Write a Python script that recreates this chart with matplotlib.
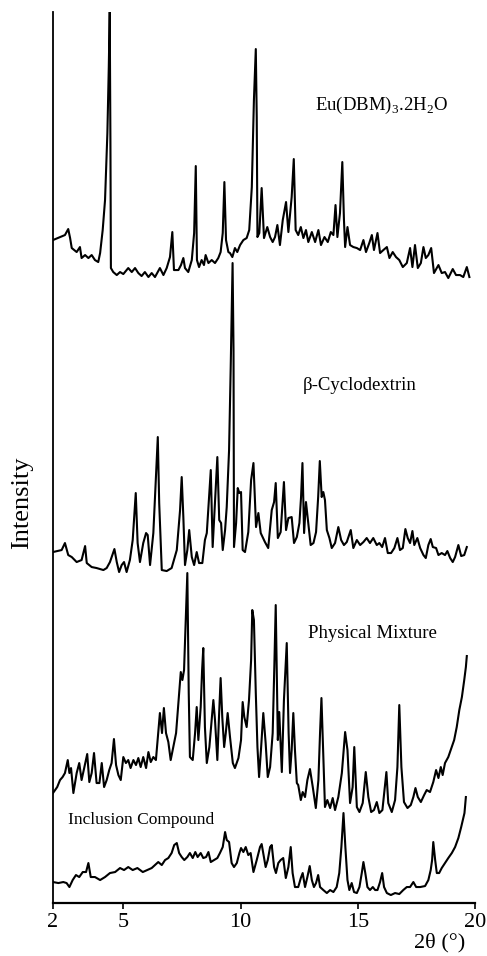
import numpy as np
import matplotlib
matplotlib.use('Agg')
import matplotlib.pyplot as plt

plt.rcParams['font.family'] = ['Liberation Serif', 'DejaVu Serif']
plt.rcParams['mathtext.fontset'] = 'custom'
plt.rcParams['mathtext.rm'] = 'Liberation Serif'

# digitised XRD patterns, 2theta (deg) vs intensity (a.u., stacked)
eu_x = [2.00, 2.51, 2.65, 2.73, 2.80, 3.01, 3.15, 3.22, 3.37, 3.51, 3.65, 3.79, 3.93, 4.01, 4.12, 4.22,
        4.32, 4.38, 4.42, 4.45, 4.47, 4.57, 4.72, 4.86, 5.00, 5.21, 5.36, 5.50, 5.64, 5.78, 5.92, 6.07,
        6.21, 6.35, 6.56, 6.71, 6.85, 6.99, 7.09, 7.16, 7.35, 7.46, 7.56, 7.63, 7.77, 7.92, 8.02, 8.09,
        8.14, 8.23, 8.34, 8.44, 8.51, 8.63, 8.77, 8.91, 9.05, 9.15, 9.24, 9.31, 9.38, 9.48, 9.55, 9.65,
        9.76, 9.86, 9.98, 10.12, 10.26, 10.37, 10.48, 10.57, 10.65, 10.69, 10.72, 10.80, 10.90, 11.00,
        11.14, 11.26, 11.37, 11.47, 11.57, 11.68, 11.80, 11.94, 12.04, 12.18, 12.27, 12.35, 12.46, 12.57,
        12.68, 12.79, 12.89, 13.04, 13.18, 13.32, 13.43, 13.58, 13.72, 13.85, 13.96, 14.05, 14.13, 14.24,
        14.34, 14.41, 14.46, 14.56, 14.67, 14.81, 14.96, 15.10, 15.24, 15.35, 15.49, 15.60, 15.69, 15.84,
        15.95, 16.09, 16.24, 16.35, 16.49, 16.63, 16.77, 16.92, 17.09, 17.23, 17.33, 17.44, 17.56, 17.69,
        17.80, 17.90, 18.01, 18.13, 18.25, 18.44, 18.58, 18.72, 18.86, 19.05, 19.19, 19.36, 19.50, 19.65,
        19.76]
eu_y = [663, 668, 674, 665, 655, 651, 656, 645, 648, 645, 648, 643, 641, 650, 673, 703,
        770, 836, 891, 760, 635, 631, 628, 631, 629, 635, 631, 635, 630, 627, 631, 626,
        630, 626, 635, 628, 635, 646, 671, 633, 633, 638, 645, 635, 631, 643, 670, 737,
        643, 636, 643, 638, 648, 640, 643, 640, 645, 651, 670, 721, 663, 651, 650, 646,
        655, 651, 658, 663, 665, 673, 716, 803, 854, 786, 666, 670, 715, 665,
        676, 666, 661, 666, 678, 658, 683, 701, 671, 706, 744, 673, 668, 676,
        665, 673, 661, 671, 661, 673, 658, 666, 661, 671, 668, 698, 666, 690,
        741, 683, 656, 676, 658, 656, 655, 653, 663, 651, 660, 668, 653, 670,
        650, 653, 656, 645, 651, 646, 643, 636, 640, 655, 636, 658, 635, 640,
        656, 645, 648, 655, 630, 638, 630, 631, 625, 634, 628, 628, 626, 636,
        626]

cd_x = [2.00, 2.37, 2.51, 2.65, 2.80, 3.01, 3.22, 3.37, 3.44, 3.65, 3.86, 4.15, 4.29, 4.43, 4.62, 4.72,
        4.82, 4.93, 5.03, 5.14, 5.28, 5.40, 5.53, 5.61, 5.71, 5.85, 5.97, 6.04, 6.14, 6.28, 6.39, 6.47,
        6.53, 6.64, 6.85, 7.06, 7.28, 7.42, 7.49, 7.56, 7.63, 7.73, 7.81, 7.92, 8.02, 8.13, 8.23, 8.37,
        8.48, 8.56, 8.64, 8.73, 8.81, 8.91, 9.01, 9.09, 9.17, 9.24, 9.34, 9.41, 9.51, 9.58, 9.66, 9.70,
        9.72, 9.81, 9.88, 9.95, 10.02, 10.09, 10.19, 10.33, 10.45, 10.55, 10.66, 10.76, 10.86, 11.04,
        11.18, 11.33, 11.43, 11.50, 11.59, 11.71, 11.85, 11.94, 12.04, 12.18, 12.28, 12.40, 12.51, 12.58,
        12.64, 12.71, 12.79, 12.89, 12.99, 13.11, 13.22, 13.31, 13.38, 13.46, 13.53, 13.60, 13.68, 13.79,
        13.89, 14.03, 14.17, 14.29, 14.41, 14.53, 14.70, 14.81, 14.96, 15.10, 15.24, 15.38, 15.52, 15.66,
        15.81, 15.92, 16.04, 16.16, 16.28, 16.42, 16.56, 16.69, 16.80, 16.92, 17.03, 17.13, 17.23, 17.33,
        17.41, 17.54, 17.66, 17.80, 17.90, 18.01, 18.11, 18.20, 18.34, 18.44, 18.58, 18.72, 18.82, 18.94,
        19.05, 19.15, 19.29, 19.41, 19.54, 19.65]
cd_y = [351, 353, 360, 348, 346, 341, 343, 357, 340, 336, 335, 333, 335, 341, 354, 341,
        331, 338, 341, 331, 343, 363, 410, 360, 341, 360, 370, 368, 338, 370, 426, 466,
        400, 333, 332, 335, 353, 393, 426, 386, 338, 353, 373, 346, 338, 351, 340, 340,
        363, 370, 400, 433, 356, 400, 446, 383, 380, 353, 373, 396, 453, 536, 640, 553,
        356, 380, 415, 410, 411, 353, 351, 371, 423, 440, 376, 390, 370, 361,
        355, 393, 401, 420, 365, 371, 421, 373, 385, 386, 360, 366, 380, 406,
        440, 370, 401, 380, 358, 360, 371, 406, 442, 406, 411, 403, 373, 365,
        355, 360, 376, 363, 358, 361, 373, 355, 363, 358, 361, 365, 360, 365,
        358, 360, 356, 365, 350, 350, 355, 365, 353, 355, 374, 365, 360, 372,
        358, 365, 355, 348, 345, 358, 364, 356, 355, 348, 350, 348, 352, 345,
        341, 346, 358, 347, 348, 356]

pm_x = [2.00, 2.18, 2.30, 2.41, 2.51, 2.63, 2.70, 2.77, 2.87, 3.01, 3.12, 3.22, 3.34, 3.46, 3.55, 3.65,
        3.75, 3.86, 3.98, 4.08, 4.18, 4.29, 4.40, 4.50, 4.60, 4.69, 4.79, 4.89, 5.00, 5.11, 5.21, 5.31,
        5.43, 5.54, 5.64, 5.74, 5.85, 5.97, 6.07, 6.17, 6.28, 6.39, 6.48, 6.56, 6.65, 6.73, 6.82, 6.92,
        7.02, 7.13, 7.25, 7.35, 7.45, 7.52, 7.59, 7.66, 7.73, 7.79, 7.84, 7.96, 8.06, 8.13, 8.20, 8.30,
        8.36, 8.41, 8.48, 8.56, 8.67, 8.77, 8.84, 8.91, 9.01, 9.08, 9.15, 9.22, 9.30, 9.37, 9.45, 9.55,
        9.67, 9.76, 9.91, 10.02, 10.09, 10.16, 10.26, 10.36, 10.45, 10.50, 10.57, 10.65, 10.72, 10.79,
        10.87, 10.97, 11.07, 11.16, 11.26, 11.37, 11.44, 11.50, 11.59, 11.65, 11.76, 11.85, 11.97, 12.05,
        12.11, 12.18, 12.25, 12.32, 12.40, 12.46, 12.57, 12.65, 12.75, 12.85, 12.96, 13.08, 13.21, 13.32,
        13.39, 13.45, 13.52, 13.60, 13.70, 13.82, 13.93, 14.03, 14.17, 14.32, 14.46, 14.56, 14.67, 14.78,
        14.85, 14.96, 15.07, 15.21, 15.34, 15.45, 15.57, 15.69, 15.81, 15.92, 16.05, 16.13, 16.22, 16.30,
        16.45, 16.59, 16.69, 16.77, 16.86, 16.97, 17.12, 17.26, 17.37, 17.46, 17.56, 17.69, 17.83, 17.94,
        18.08, 18.22, 18.34, 18.44, 18.54, 18.62, 18.72, 18.86, 19.01, 19.11, 19.22, 19.33, 19.44, 19.54,
        19.61, 19.65]
pm_y = [110, 116, 123, 126, 130, 143, 130, 135, 110, 130, 140, 123, 136, 149, 121, 130,
        150, 120, 120, 140, 116, 123, 133, 140, 164, 138, 128, 123, 146, 140, 143, 135,
        143, 138, 145, 136, 146, 135, 151, 141, 146, 143, 168, 190, 170, 195, 170, 161,
        143, 156, 170, 200, 231, 223, 233, 280, 330, 210, 146, 143, 170, 196, 163, 196,
        233, 255, 176, 140, 156, 183, 203, 183, 143, 186, 225, 186, 156, 170, 190, 166,
        140, 135, 145, 163, 201, 186, 176, 203, 243, 293, 283, 210, 156, 126,
        153, 190, 160, 126, 136, 170, 236, 298, 163, 191, 131, 203, 260, 170,
        130, 153, 190, 153, 120, 118, 103, 111, 106, 123, 134, 116, 95, 123,
        170, 205, 153, 96, 103, 95, 105, 93, 106, 130, 171, 153, 100, 116,
        156, 96, 91, 100, 131, 106, 91, 93, 101, 90, 93, 111, 131, 100,
        91, 103, 136, 198, 136, 101, 95, 98, 106, 115, 106, 101, 108, 113,
        111, 121, 133, 125, 136, 128, 140, 146, 156, 163, 176, 193, 206, 223,
        236, 247]

ic_x = [2.00, 2.23, 2.44, 2.58, 2.70, 2.84, 2.98, 3.12, 3.27, 3.41, 3.51, 3.61, 3.79, 4.01, 4.22, 4.43,
        4.65, 4.86, 5.03, 5.21, 5.40, 5.60, 5.83, 6.02, 6.21, 6.35, 6.49, 6.64, 6.78, 6.92, 7.06, 7.17,
        7.28, 7.38, 7.49, 7.60, 7.73, 7.84, 7.96, 8.07, 8.17, 8.30, 8.41, 8.53, 8.63, 8.73, 8.87, 9.01,
        9.12, 9.24, 9.34, 9.41, 9.51, 9.62, 9.72, 9.84, 9.95, 10.02, 10.12, 10.22, 10.33, 10.43, 10.55,
        10.69, 10.83, 10.90, 11.07, 11.16, 11.26, 11.33, 11.43, 11.51, 11.61, 11.71, 11.82, 11.93, 12.04,
        12.14, 12.22, 12.32, 12.46, 12.57, 12.65, 12.75, 12.85, 12.95, 13.04, 13.13, 13.22, 13.31, 13.39,
        13.53, 13.68, 13.82, 13.96, 14.10, 14.21, 14.30, 14.39, 14.47, 14.56, 14.64, 14.74, 14.84, 14.96,
        15.07, 15.17, 15.24, 15.32, 15.41, 15.52, 15.64, 15.74, 15.84, 15.95, 16.04, 16.12, 16.24, 16.41,
        16.59, 16.77, 16.94, 17.09, 17.23, 17.37, 17.49, 17.66, 17.87, 18.01, 18.11, 18.17, 18.22, 18.30,
        18.37, 18.47, 18.58, 18.72, 18.86, 19.01, 19.15, 19.29, 19.41, 19.48, 19.55, 19.61]
ic_y = [21, 20, 21, 20, 16, 23, 28, 26, 31, 31, 40, 26, 26, 23, 26, 30,
        31, 35, 33, 36, 33, 35, 31, 33, 35, 38, 41, 38, 43, 45, 50, 58,
        60, 50, 46, 43, 46, 50, 45, 51, 46, 50, 45, 46, 51, 41, 43, 45,
        50, 56, 71, 63, 61, 40, 36, 40, 50, 55, 51, 56, 48, 50, 31,
        43, 56, 59, 36, 43, 56, 58, 36, 30, 40, 43, 45, 25, 36,
        56, 30, 16, 16, 25, 30, 16, 26, 37, 23, 16, 20, 28, 16,
        13, 10, 13, 11, 16, 30, 56, 90, 56, 23, 13, 20, 11, 10,
        16, 30, 41, 30, 16, 13, 16, 13, 13, 21, 30, 16, 10, 8,
        10, 9, 13, 16, 16, 21, 16, 16, 17, 23, 33, 43, 61, 43,
        30, 30, 35, 40, 45, 50, 56, 65, 76, 83, 90, 106]

x_ticks = [2, 5, 10, 15, 20]

fig = plt.figure(figsize=(4.87, 9.56), dpi=100)
ax = fig.add_axes([0.1088, 0.0554, 0.8666, 0.932])

for xs, ys in [(eu_x, eu_y), (cd_x, cd_y), (pm_x, pm_y), (ic_x, ic_y)]:
    ax.plot(xs, ys, color='black', lw=1.5)

ax.set_xlim(2, 20)
ax.set_ylim(0, 891)
ax.set_xticks(x_ticks)
ax.set_xticklabels([str(t) for t in x_ticks], fontsize=16)
ax.set_yticks([])
ax.tick_params(axis='x', direction='out', length=4, width=1.2, pad=3)
ax.spines['top'].set_visible(False)
ax.spines['right'].set_visible(False)
ax.spines['left'].set_linewidth(1.3)
ax.spines['bottom'].set_linewidth(1.6)

ax.text(15.99, 798, r'Eu(DBM)$_\mathrm{3}$.2H$_\mathrm{2}$O', fontsize=13.5, ha='center', va='center')
ax.text(15.10, 518, 'β-Cyclodextrin', fontsize=13.5, ha='center', va='center')
ax.text(15.61, 270, 'Physical Mixture', fontsize=13.5, ha='center', va='center')
ax.text(5.75, 83, 'Inclusion Compound', fontsize=12.5, ha='center', va='center')

fig.text(440 / 487, 1 - 943 / 956, '2θ (°)', fontsize=16, ha='center', va='center')
fig.text(22 / 487, 1 - 503 / 956, 'Intensity', fontsize=19, rotation=90, ha='center', va='center')

fig.savefig('out.png', dpi=100)
